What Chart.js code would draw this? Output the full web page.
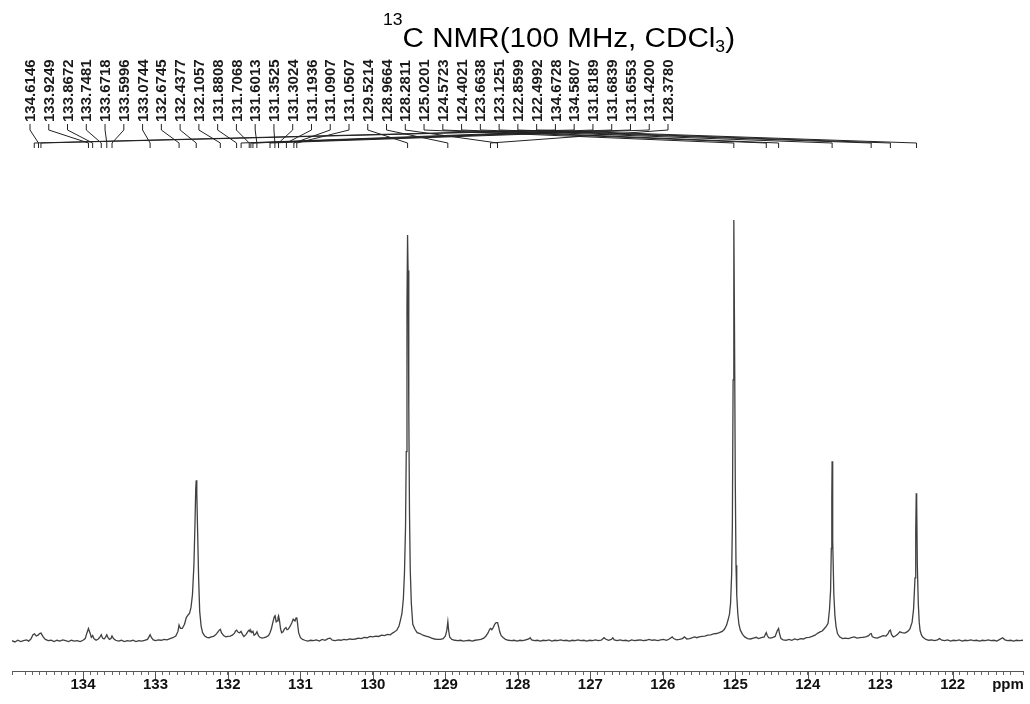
<!DOCTYPE html>
<html><head><meta charset="utf-8">
<script src="https://cdn.jsdelivr.net/npm/chart.js@4.4.1/dist/chart.umd.min.js"></script>
<style>html,body{margin:0;padding:0;background:#fff;}canvas{display:block;}</style>
</head><body>
<canvas id="c" width="1030" height="704"></canvas>
<script>
// ---- data ----
const spectrum = [
[134.98,0.1],[134.94,-0.2],[134.90,0.2],[134.86,-0.1],[134.82,0.1],[134.78,0.3],[134.75,0.0],[134.72,0.5],[134.69,1.5],[134.67,1.7],
[134.645,1.2],[134.62,1.4],[134.60,1.8],[134.58,1.9],[134.55,1.0],[134.52,0.4],[134.48,0.1],[134.44,0.2],[134.40,-0.1],[134.36,0.2],
[134.32,0.0],[134.28,0.3],[134.24,0.1],[134.20,-0.1],[134.16,0.2],[134.12,0.0],[134.08,0.1],[134.04,-0.1],[134.00,0.2],[133.97,0.6],
[133.945,2.0],[133.925,3.0],[133.905,2.0],[133.885,0.9],[133.867,1.3],[133.85,0.6],[133.82,0.2],[133.79,0.5],[133.765,1.0],[133.748,1.5],
[133.73,0.7],[133.71,0.5],[133.69,0.9],[133.672,1.5],[133.655,0.8],[133.635,0.4],[133.615,0.6],[133.60,1.2],[133.58,0.6],[133.55,0.2],
[133.51,0.0],[133.47,0.2],[133.43,-0.1],[133.39,0.1],[133.35,0.0],[133.31,0.2],[133.27,-0.1],[133.23,0.1],[133.19,0.0],[133.15,0.2],
[133.11,0.4],[133.09,1.0],[133.074,1.5],[133.055,0.8],[133.03,0.3],[133.00,0.1],[132.96,0.3],[132.92,0.2],[132.88,0.4],[132.84,0.3],
[132.80,0.6],[132.76,0.8],[132.72,1.2],[132.69,2.3],[132.675,3.8],[132.655,3.0],[132.63,3.0],[132.60,4.0],[132.575,5.6],[132.55,6.2],
[132.53,6.6],[132.51,8.0],[132.49,11.0],[132.47,18.0],[132.455,28.0],[132.445,36.0],[132.438,38.2],[132.43,35.0],[132.42,27.0],[132.405,15.0],
[132.39,7.0],[132.37,3.5],[132.35,2.0],[132.32,1.2],[132.29,0.9],[132.26,0.8],[132.23,1.0],[132.20,1.1],[132.17,1.5],[132.12,2.6],
[132.105,2.8],[132.09,2.0],[132.06,1.3],[132.03,1.0],[132.00,1.1],[131.97,1.2],[131.94,1.4],[131.91,1.9],[131.895,2.4],[131.88,2.6],
[131.86,2.1],[131.84,2.0],[131.82,2.3],[131.80,1.6],[131.78,1.1],[131.75,1.6],[131.72,2.4],[131.707,2.6],[131.695,2.2],[131.684,2.5],
[131.67,2.0],[131.655,2.3],[131.64,1.4],[131.62,1.6],[131.60,2.2],[131.58,1.3],[131.56,0.9],[131.53,0.7],[131.50,0.8],[131.47,1.0],
[131.44,1.3],[131.42,2.0],[131.40,3.0],[131.38,4.5],[131.36,5.8],[131.35,6.0],[131.335,4.6],[131.32,4.8],[131.31,5.6],[131.302,6.0],
[131.29,5.0],[131.275,3.0],[131.26,2.0],[131.24,2.2],[131.22,2.9],[131.20,3.2],[131.185,2.7],[131.17,2.8],[131.15,3.3],[131.12,4.3],
[131.10,5.2],[131.09,5.0],[131.075,4.8],[131.06,5.5],[131.05,5.6],[131.04,4.2],[131.025,2.0],[131.00,0.8],[130.97,0.4],[130.94,0.2],
[130.90,0.0],[130.86,0.2],[130.82,0.1],[130.78,0.3],[130.74,0.0],[130.70,0.4],[130.66,0.2],[130.62,0.6],[130.59,0.7],[130.56,0.2],
[130.52,0.1],[130.48,0.3],[130.44,0.2],[130.40,0.4],[130.36,0.3],[130.32,0.5],[130.28,0.4],[130.24,0.5],[130.20,0.7],[130.16,0.6],
[130.12,0.9],[130.08,0.8],[130.04,1.1],[130.00,1.0],[129.96,1.2],[129.92,1.1],[129.88,1.4],[129.84,1.3],[129.80,1.6],[129.76,1.5],
[129.73,1.9],[129.70,2.2],[129.67,2.6],[129.64,3.6],[129.62,5.0],[129.60,6.5],[129.58,10.0],[129.565,16.0],[129.55,27.0],[129.54,45.0],
[129.53,80.0],[129.522,96.4],[129.515,88.0],[129.505,55.0],[129.495,30.0],[129.485,17.0],[129.47,9.0],[129.45,4.0],[129.42,2.8],[129.39,2.0],
[129.35,1.8],[129.31,1.4],[129.27,1.2],[129.23,1.0],[129.19,0.7],[129.15,0.5],[129.11,0.4],[129.07,0.4],[129.03,0.6],[129.00,1.2],
[128.98,2.6],[128.966,4.6],[128.955,2.5],[128.94,0.9],[128.91,0.4],[128.87,0.2],[128.83,0.1],[128.79,0.2],[128.75,0.0],[128.71,0.1],
[128.67,0.2],[128.63,0.0],[128.59,0.2],[128.55,0.3],[128.51,0.4],[128.47,0.7],[128.44,1.2],[128.41,2.0],[128.39,2.8],[128.375,3.0],
[128.36,2.7],[128.34,3.2],[128.32,4.0],[128.30,4.4],[128.28,4.4],[128.265,3.4],[128.25,2.2],[128.23,1.3],[128.20,0.8],[128.17,0.4],
[128.13,0.2],[128.09,0.1],[128.05,0.2],[128.01,0.0],[127.97,0.2],[127.93,0.1],[127.89,0.3],[127.85,0.5],[127.83,0.8],[127.81,0.3],
[127.77,0.1],[127.73,0.2],[127.69,0.0],[127.65,0.2],[127.61,0.1],[127.57,0.3],[127.53,0.0],[127.49,0.2],[127.45,0.1],[127.41,0.3],
[127.37,0.1],[127.33,0.2],[127.29,0.0],[127.25,0.2],[127.21,0.1],[127.17,0.3],[127.13,0.1],[127.09,0.2],[127.05,0.0],[127.01,0.2],
[126.97,0.1],[126.93,0.3],[126.89,0.1],[126.85,0.2],[126.81,0.8],[126.79,0.5],[126.75,0.2],[126.71,0.4],[126.69,0.8],[126.67,0.3],
[126.63,0.1],[126.59,0.3],[126.55,0.1],[126.51,0.2],[126.47,0.0],[126.43,0.3],[126.39,0.1],[126.35,0.2],[126.31,0.3],[126.27,0.1],
[126.23,0.2],[126.19,0.4],[126.15,0.2],[126.11,0.3],[126.07,0.1],[126.03,0.3],[125.99,0.4],[125.95,0.2],[125.91,0.5],[125.87,1.0],
[125.85,0.6],[125.81,0.3],[125.77,0.4],[125.73,0.6],[125.70,1.0],[125.67,0.5],[125.63,0.6],[125.59,0.8],[125.56,1.0],[125.53,0.8],
[125.50,1.0],[125.46,1.1],[125.42,1.2],[125.38,1.4],[125.34,1.5],[125.30,1.7],[125.26,1.8],[125.22,2.0],[125.18,2.3],[125.15,2.8],
[125.12,3.8],[125.10,5.0],[125.08,6.4],[125.065,9.0],[125.05,16.0],[125.04,28.0],[125.03,62.0],[125.022,97.0],[125.018,100.0],[125.01,72.0],
[125.0,38.0],[124.99,18.0],[124.98,11.0],[124.965,6.5],[124.95,4.0],[124.93,2.6],[124.90,1.6],[124.87,1.0],[124.83,0.6],[124.79,0.5],[124.75,0.7],
[124.71,0.9],[124.68,0.6],[124.64,0.8],[124.60,1.0],[124.585,1.6],[124.572,2.0],[124.56,1.4],[124.54,0.8],[124.51,0.7],[124.48,0.9],
[124.45,1.1],[124.42,2.5],[124.402,3.0],[124.39,1.8],[124.37,0.6],[124.34,0.3],[124.30,0.2],[124.26,0.4],[124.22,0.2],[124.18,0.5],
[124.14,0.3],[124.10,0.6],[124.06,0.5],[124.02,0.8],[123.98,0.9],[123.94,1.1],[123.90,1.4],[123.86,1.9],[123.83,2.2],[123.80,2.4],
[123.77,3.0],[123.74,3.6],[123.72,4.2],[123.70,7.5],[123.685,12.0],[123.675,22.0],[123.668,34.0],[123.664,42.7],[123.66,40.0],[123.652,24.0],
[123.64,11.0],[123.625,6.0],[123.61,3.5],[123.59,1.8],[123.56,1.0],[123.52,0.6],[123.48,0.7],[123.44,0.6],[123.40,0.8],[123.36,1.0],
[123.32,0.7],[123.28,0.8],[123.24,0.9],[123.20,1.0],[123.16,1.3],[123.14,1.7],[123.125,1.8],[123.11,1.1],[123.08,0.8],[123.04,0.7],
[123.00,1.0],[122.96,1.3],[122.92,1.2],[122.89,1.8],[122.875,2.4],[122.86,2.6],[122.845,1.6],[122.82,1.0],[122.79,1.2],[122.76,1.6],
[122.73,2.2],[122.70,2.0],[122.66,1.9],[122.62,2.3],[122.59,2.9],[122.56,4.5],[122.54,7.6],[122.52,15.0],[122.51,26.0],[122.503,35.1],
[122.497,33.0],[122.488,18.0],[122.475,9.0],[122.462,4.5],[122.45,2.5],[122.43,1.4],[122.41,0.9],[122.37,0.4],[122.33,0.2],[122.29,0.3],
[122.25,0.1],[122.21,0.3],[122.18,0.6],[122.15,0.2],[122.11,0.1],[122.07,0.3],[122.03,0.0],[121.99,0.2],[121.95,0.1],[121.91,0.3],
[121.87,0.0],[121.83,0.2],[121.79,0.1],[121.75,0.3],[121.71,0.1],[121.67,0.2],[121.63,0.0],[121.59,0.2],[121.55,0.1],[121.51,0.3],
[121.47,0.1],[121.43,0.2],[121.39,0.0],[121.35,0.4],[121.31,0.8],[121.28,0.3],[121.24,0.1],[121.20,0.2],[121.16,0.0],[121.12,0.2],
[121.08,0.1],[121.03,0.2]
];
const peakShifts = [134.6146,133.9249,133.8672,133.7481,133.6718,133.5996,133.0744,132.6745,132.4377,132.1057,
  131.8808,131.7068,131.6013,131.3525,131.3024,131.1936,131.0907,131.0507,129.5214,128.9664,128.2811,
  125.0201,124.5723,124.4021,123.6638,123.1251,122.8599,122.4992,134.6728,134.5807,131.8189,131.6839,
  131.6553,131.4200,128.3780];
const axisTicks = [134,133,132,131,130,129,128,127,126,125,124,123,122];
const axisRange = [121.03, 134.98];
const unitLabel = "ppm";
const titleSup = "13", titleMain = "C NMR(100 MHz, CDCl", titleSub = "3", titleEnd = ")";

// ---- drawing ----
const FONT = '"Liberation Sans", Arial, Helvetica, sans-serif';
const decor = {
  id: 'decor',
  afterDraw(chart) {
    const ctx = chart.ctx, xs = chart.scales.x, base = chart.chartArea.bottom;
    ctx.save();
    ctx.strokeStyle = '#555'; ctx.lineWidth = 1;
    axisTicks.forEach(v => {
      const px = Math.round(xs.getPixelForValue(v)) + 0.5;
      ctx.beginPath(); ctx.moveTo(px, base); ctx.lineTo(px, base + 8); ctx.stroke();
    });
    ctx.fillStyle = '#111';
    ctx.font = 'bold 15px ' + FONT; ctx.textAlign = 'center'; ctx.textBaseline = 'alphabetic';
    ctx.fillText(unitLabel, 1008, 689);

    // title with super/subscript
    const big = '27px ' + FONT, small = '16px ' + FONT;
    ctx.font = small; const w1 = ctx.measureText(titleSup).width, w3 = ctx.measureText(titleSub).width;
    ctx.font = big; const w2 = ctx.measureText(titleMain).width, w4 = ctx.measureText(titleEnd).width;
    const sx = (735 - 383) / (w1 + w2 + w3 + w4);
    ctx.save(); ctx.translate(383, 0); ctx.scale(sx, 1); ctx.textAlign = 'left'; ctx.fillStyle = '#000';
    let cx = 0;
    ctx.font = small; ctx.fillText(titleSup, cx, 25); cx += w1;
    ctx.font = big; ctx.fillText(titleMain, cx, 47); cx += w2;
    ctx.font = small; ctx.fillText(titleSub, cx, 52); cx += w3;
    ctx.font = big; ctx.fillText(titleEnd, cx, 47);
    ctx.restore();

    // peak labels
    const n = peakShifts.length, x0 = 30, x1 = 668;
    ctx.font = 'bold 15px ' + FONT; ctx.fillStyle = '#1a1a1a';
    ctx.strokeStyle = '#222';
    peakShifts.forEach((p, i) => {
      const xl = x0 + i * (x1 - x0) / (n - 1);
      const xp = xs.getPixelForValue(p);
      ctx.save(); ctx.translate(xl, 122); ctx.rotate(-Math.PI / 2);
      ctx.textAlign = 'left'; ctx.textBaseline = 'middle';
      ctx.fillText(p.toFixed(4), 0, 1); ctx.restore();
      ctx.beginPath(); ctx.moveTo(xl, 124); ctx.lineTo(xl, 130); ctx.lineTo(xp, 143); ctx.lineTo(xp, 148); ctx.stroke();
    });
    ctx.restore();
  }
};

new Chart(document.getElementById('c'), {
  type: 'line',
  data: { datasets: [{
    data: spectrum.map(p => ({ x: p[0], y: p[1] })),
    borderColor: '#404040', borderWidth: 1.3, pointRadius: 0, tension: 0, fill: false
  }] },
  options: {
    responsive: false, animation: false, devicePixelRatio: 1,
    layout: { padding: { top: 150, left: 12, right: 7, bottom: 9 } },
    plugins: { legend: { display: false }, tooltip: { enabled: false } },
    scales: {
      x: {
        type: 'linear', reverse: true, min: axisRange[0], max: axisRange[1],
        border: { display: true, color: '#555', width: 1 },
        grid: { display: true, drawOnChartArea: false, drawTicks: true, tickLength: 4, color: '#666' },
        ticks: {
          stepSize: 0.1, autoSkip: false, maxRotation: 0, minRotation: 0, padding: 1, color: '#111',
          font: { family: FONT, size: 15, weight: 'bold' },
          callback: v => { const r = Math.round(v); return (Math.abs(v - r) < 1e-6 && axisTicks.includes(r)) ? String(r) : ''; }
        }
      },
      y: { display: false, min: -7.1, max: 116.6 }
    }
  },
  plugins: [decor]
});
</script>
</body></html>
